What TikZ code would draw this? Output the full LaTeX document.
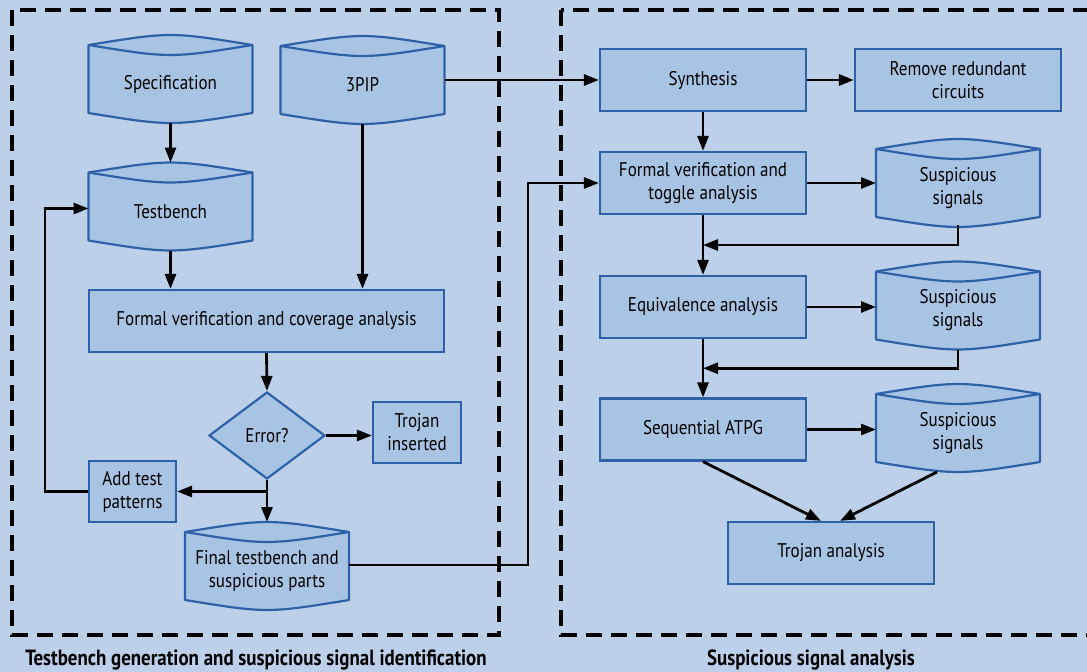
\documentclass[tikz,border=0pt]{standalone}
\usepackage{fontspec}
\setmainfont{PT Sans}[FakeStretch=0.86]
\usetikzlibrary{shapes.geometric,arrows.meta,calc}
\definecolor{sheet}{RGB}{188,208,234}
\definecolor{boxfill}{RGB}{168,196,228}
\definecolor{boxline}{RGB}{46,98,168}
\pgfdeclarelayer{back}
\pgfsetlayers{back,main}

\begin{document}
\begin{tikzpicture}[x=1pt, y=-1pt, >={Triangle[length=15pt,width=11pt]},
    every node/.append style={font=\fontsize{19.8}{23}\selectfont, align=center, inner sep=0pt},
    flow/.style={->, line width=2.8pt},
    zone/.style={line width=3.2pt, dash pattern=on 16pt off 9pt}]
  \tikzstyle{procbox} = [rectangle, draw=boxline, fill=boxfill, line width=2.2pt, minimum height=62pt]
  \tikzstyle{drum} = [rectangle, minimum width=164pt, minimum height=58pt, outer sep=0pt]
  \tikzstyle{caption} = [font=\fontsize{22}{26}\selectfont\bfseries]
  \useasboundingbox (0,0) rectangle (1087,672);

  % testbench side
  \node (spec) [drum] at (170.5,84) {Specification};
  \node (ip) [drum] at (362.5,85) {3PIP};
  \node (tb) [drum] at (170.5,211.5) {Testbench};
  \node (fvca) [procbox, minimum width=355pt] at (266.5,321) {Formal verification and coverage analysis};
  \node (err) [diamond, draw=boxline, fill=boxfill, line width=2.2pt, minimum width=116pt, minimum height=87pt] at (267,435.5) {Error?};
  \node (ins) [procbox, minimum width=88pt, minimum height=61pt] at (417,432.5) {Trojan\\inserted};
  \node (add) [procbox, minimum width=87pt, minimum height=61pt] at (132.5,491.5) {Add test\\patterns};
  \node (final) [drum] at (267,571) {Final testbench and\\suspicious parts};

  % signal analysis side
  \node (syn) [procbox, minimum width=206pt] at (703,80) {Synthesis};
  \node (rem) [procbox, minimum width=206pt] at (958,80) {Remove redundant\\circuits};
  \node (fvt) [procbox, minimum width=206pt] at (703,183) {Formal verification and\\toggle analysis};
  \node (sus1) [drum] at (958,188) {Suspicious\\signals};
  \node (eq) [procbox, minimum width=206pt] at (703,307) {Equivalence analysis};
  \node (sus2) [drum] at (958,310.5) {Suspicious\\signals};
  \node (atpg) [procbox, minimum width=206pt] at (703,429.5) {Sequential ATPG};
  \node (sus3) [drum] at (958,433) {Suspicious\\signals};
  \node (troj) [procbox, minimum width=206pt] at (831,553) {Trojan analysis};

  \node (cap1) [caption] at (256,660) {Testbench generation and suspicious signal identification};
  \node (cap2) [caption] at (811,660) {Suspicious signal analysis};

  \draw[zone] (12,10) rectangle (499,635);
  \draw[zone] (561,10) rectangle (1100,635);

  \coordinate (jog) at (528,0);

  \draw[flow] ([yshift=-10pt]spec.south) -- ([yshift=20pt]tb.north);
  \draw[flow] ([yshift=-10pt]tb.south) -- (tb.south |- fvca.north);
  \draw[flow] ([yshift=-10pt]ip.south) -- (ip.south |- fvca.north);
  \draw[flow] (fvca.south) -- (err.north);
  \draw[flow] (err.east) -- (err.east -| ins.west);
  \draw[flow] (err.south) -- ([yshift=20pt]final.north);
  \draw[flow] (err.south |- add.east) -- (add.east);
  \draw[flow] (add.west) -- ++(-43,0) |- ([yshift=3pt]tb.west);
  \draw[flow] ([yshift=6pt]final.east) -| (jog |- fvt.west) -- (fvt.west);
  \draw[flow] (ip.east |- syn.west) -- (syn.west);
  \draw[flow] (syn.east) -- (rem.west);
  \draw[flow] (syn.south) -- (fvt.north);
  \draw[flow] (fvt.east) -- (fvt.east -| sus1.west);
  \draw[flow] ([yshift=-8pt]sus1.south) |- ($(fvt.south)!0.5!(eq.north)$);
  \draw[flow] (fvt.south) -- (eq.north);
  \draw[flow] (eq.east) -- (eq.east -| sus2.west);
  \draw[flow] ([yshift=-10pt]sus2.south) |- ($(eq.south)!0.5!(atpg.north)$);
  \draw[flow] (eq.south) -- (atpg.north);
  \draw[flow] (atpg.east) -- (atpg.east -| sus3.west);
  \draw[flow] (atpg.south) -- ([xshift=-10pt]troj.north);
  \draw[flow] ([xshift=-21pt,yshift=-10pt]sus3.south) -- ([xshift=9pt]troj.north);

  % background and drum outlines (y axis points down here)
  \begin{pgfonlayer}{back}
    \fill[sheet] (0,0) rectangle (1087,672);
    \foreach \d in {spec,ip,tb,final,sus1,sus2,sus3} {
      \draw[boxline, fill=boxfill, line width=2.2pt, line join=round]
        ($(\d.north west)+(0,-10)$) .. controls ($(\d.north)+(0,-23.3)$) .. ($(\d.north east)+(0,-10)$)
        -- (\d.south east) .. controls ($(\d.south)+(0,13.3)$) .. (\d.south west) -- cycle;
      \draw[boxline, line width=2.2pt]
        ($(\d.north west)+(0,-10)$) .. controls ($(\d.north)+(0,3.3)$) .. ($(\d.north east)+(0,-10)$);
    }
  \end{pgfonlayer}
\end{tikzpicture}
\end{document}
